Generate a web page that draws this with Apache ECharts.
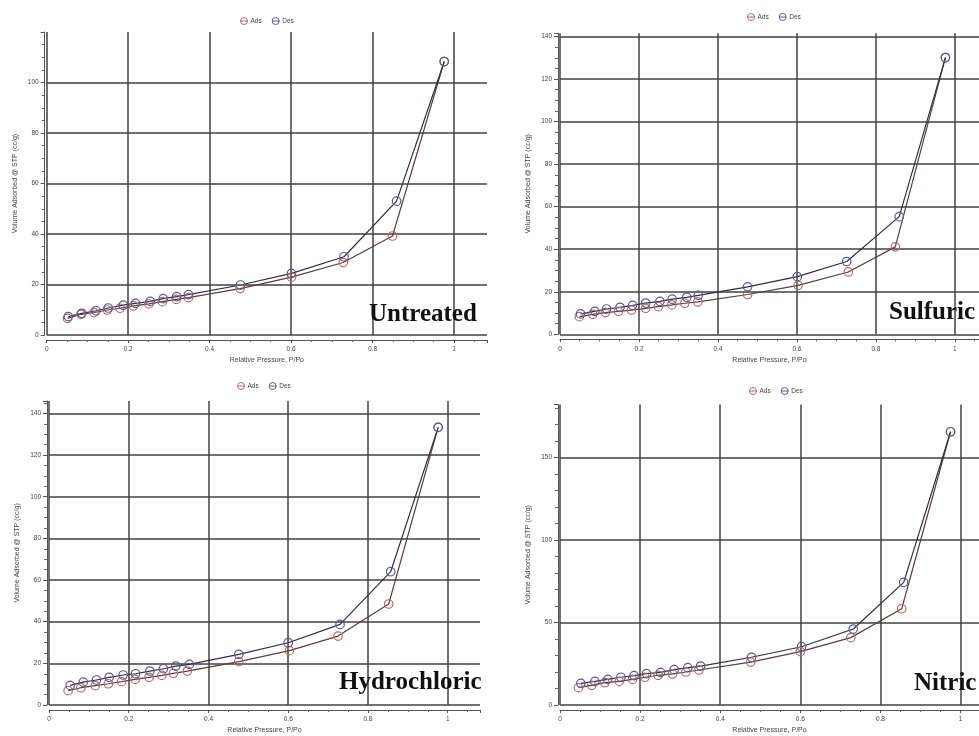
<!DOCTYPE html>
<html><head><meta charset="utf-8">
<script src="https://cdn.jsdelivr.net/npm/echarts@6/dist/echarts.min.js"></script>
<style>html,body{margin:0;padding:0;background:#fff}#c{width:979px;height:736px}</style>
</head><body><div id="c"></div>
<script>
// ---------- data ----------
const panelNames = ['Untreated', 'Sulfuric', 'Hydrochloric', 'Nitric'];
const seriesNames = ['Ads', 'Des'];
const xAxisName = 'Relative Pressure, P/Po';
const yAxisName = 'Volume Adsorbed @ STP (cc/g)';

const untreatedAdsP = [0.051,0.084,0.116,0.149,0.180,0.213,0.251,0.284,0.318,0.348,0.475,0.601,0.728,0.849,0.976];
const untreatedAdsV = [6.6,8.2,8.9,9.9,10.6,11.5,12.3,13.2,14.1,14.8,18.4,22.9,28.7,39.2,108.3];
const untreatedDesP = [0.976,0.859,0.730,0.601,0.476,0.348,0.319,0.286,0.254,0.218,0.188,0.151,0.121,0.086,0.053];
const untreatedDesV = [108.3,53.0,31.0,24.4,19.8,16.0,15.2,14.4,13.3,12.5,11.8,10.7,9.6,8.6,7.3];

const sulfuricAdsP = [0.049,0.083,0.115,0.148,0.181,0.217,0.249,0.283,0.316,0.349,0.475,0.603,0.730,0.849,0.976];
const sulfuricAdsV = [8.3,9.4,10.2,10.8,11.4,12.2,13.0,13.8,14.6,15.2,18.7,23.0,29.3,41.1,130.1];
const sulfuricDesP = [0.976,0.859,0.726,0.601,0.475,0.350,0.321,0.284,0.253,0.217,0.184,0.152,0.118,0.088,0.052];
const sulfuricDesV = [130.1,55.3,34.2,27.1,22.3,18.3,17.4,16.5,15.5,14.7,13.6,12.7,11.9,10.8,9.6];

const hydroAdsP = [0.048,0.080,0.116,0.149,0.182,0.216,0.251,0.283,0.312,0.347,0.476,0.603,0.725,0.852,0.976];
const hydroAdsV = [6.9,8.3,9.3,10.2,11.2,12.3,13.3,14.2,15.2,16.3,20.8,26.1,33.1,48.5,133.3];
const hydroDesP = [0.976,0.857,0.730,0.600,0.476,0.352,0.318,0.287,0.253,0.217,0.186,0.151,0.119,0.086,0.053];
const hydroDesV = [133.3,64.0,38.7,29.9,24.3,19.5,18.7,17.4,16.3,15.0,14.4,13.3,12.0,11.0,9.4];

const nitricAdsP = [0.046,0.079,0.112,0.148,0.181,0.212,0.245,0.281,0.314,0.347,0.476,0.600,0.726,0.853,0.975];
const nitricAdsV = [10.5,11.9,13.5,14.3,15.5,16.8,18.0,18.8,20.0,21.2,26.0,32.3,40.8,58.3,165.5];
const nitricDesP = [0.975,0.858,0.732,0.603,0.478,0.351,0.319,0.285,0.251,0.216,0.185,0.152,0.119,0.087,0.052];
const nitricDesV = [165.5,74.3,46.0,35.3,28.9,23.6,22.6,21.4,19.8,19.0,17.8,16.8,15.5,14.3,13.1];

// y-axis tick settings per panel
const yIntervals = [20, 20, 20, 50];
const yMinorSplit = [4, 4, 4, 5];
const yMaxes = [120, 141.5, 146, 182];
const xMaxes = [1.081, 1.061, 1.081, 1.046];

// ---------- layout ----------
const layout = [
  {left: 46.7, top: 32,    width: 440.3, height: 303,   legendX: 235, legendY: 12, labelX: 369, labelY: 316},
  {left: 560,  top: 33.3,  width: 419,   height: 301,   legendX: 742, legendY: 8,  labelX: 889, labelY: 314},
  {left: 49,   top: 400.9, width: 431,   height: 304.1, legendX: 232, legendY: 377, labelX: 339, labelY: 684},
  {left: 560,  top: 404.5, width: 419,   height: 300.5, legendX: 744, legendY: 382, labelX: 914, labelY: 685}
];

const allData = [
  [untreatedAdsP, untreatedAdsV, untreatedDesP, untreatedDesV],
  [sulfuricAdsP, sulfuricAdsV, sulfuricDesP, sulfuricDesV],
  [hydroAdsP, hydroAdsV, hydroDesP, hydroDesV],
  [nitricAdsP, nitricAdsV, nitricDesP, nitricDesV]
];

const FONT = '"Liberation Sans", Arial, sans-serif';
const gridColor = '#424242';
const adsMarker = '#b86a6a', desMarker = '#5b5b8e';
const adsLine = '#5e3c3c', desLine = '#2e2e48';
const iconPath = 'path://M0,5A5,5,0,1,1,10,5A5,5,0,1,1,0,5ZM0,5L10,5';

const zip = (a, b) => a.map((v, i) => [v, b[i]]);

const grids = [], xAxes = [], yAxes = [], series = [], legends = [], graphics = [];
layout.forEach((L, i) => {
  grids.push({left: L.left, top: L.top, width: L.width, height: L.height, containLabel: false});
  xAxes.push({
    type: 'value', gridIndex: i, min: 0, max: xMaxes[i], interval: 0.2,
    offset: 5,
    name: xAxisName, nameLocation: 'middle', nameGap: 17,
    nameTextStyle: {fontSize: 7, color: '#444', fontFamily: FONT},
    axisLine: {show: true, onZero: false, lineStyle: {color: '#555', width: 1}},
    axisTick: {show: true, length: 3, inside: false, lineStyle: {color: '#555'}},
    minorTick: {show: true, splitNumber: 4, length: 2, lineStyle: {color: '#666'}},
    axisLabel: {fontSize: 6.5, color: '#444', fontFamily: FONT, margin: 6, showMaxLabel: false,
      formatter: v => String(Math.round(v * 10) / 10)},
    splitLine: {show: true, showMaxLine: false, lineStyle: {color: gridColor, width: 1.5}}
  });
  yAxes.push({
    type: 'value', gridIndex: i, min: 0, max: yMaxes[i], interval: yIntervals[i],
    offset: 2,
    name: yAxisName, nameLocation: 'middle', nameGap: 26, nameRotate: 90,
    nameTextStyle: {fontSize: 7, color: '#444', fontFamily: FONT},
    axisLine: {show: true, onZero: false, lineStyle: {color: '#555', width: 1}},
    axisTick: {show: true, length: 4, lineStyle: {color: '#555'}},
    minorTick: {show: true, splitNumber: yMinorSplit[i], length: 3, lineStyle: {color: '#666'}},
    axisLabel: {fontSize: 6.5, color: '#444', fontFamily: FONT, margin: 6, showMaxLabel: false},
    splitLine: {show: true, showMaxLine: false, lineStyle: {color: gridColor, width: 1.5}}
  });
  const d = allData[i];
  series.push({
    name: seriesNames[0], type: 'line', xAxisIndex: i, yAxisIndex: i,
    data: zip(d[0], d[1]), symbol: 'circle', symbolSize: 8.5,
    itemStyle: {color: 'rgba(255,255,255,0)', borderColor: adsMarker, borderWidth: 1.2},
    lineStyle: {color: adsLine, width: 1.2}, z: 3, animation: false
  });
  series.push({
    name: seriesNames[1], type: 'line', xAxisIndex: i, yAxisIndex: i,
    data: zip(d[2], d[3]), symbol: 'circle', symbolSize: 8.5,
    itemStyle: {color: 'rgba(255,255,255,0)', borderColor: desMarker, borderWidth: 1.2},
    lineStyle: {color: desLine, width: 1.2}, z: 3, animation: false
  });
  legends.push({
    left: L.legendX, top: L.legendY, itemWidth: 7, itemHeight: 7, itemGap: 10,
    selectedMode: false,
    textStyle: {fontSize: 6.5, color: '#444', fontFamily: FONT, padding: [0, 0, 0, -2]},
    data: [
      {name: seriesNames[0], icon: iconPath, itemStyle: {color: 'rgba(255,255,255,0)', borderColor: adsMarker, borderWidth: 1}},
      {name: seriesNames[1], icon: iconPath, itemStyle: {color: 'rgba(255,255,255,0)', borderColor: desMarker, borderWidth: 1}}
    ]
  });
  graphics.push({
    type: 'text', left: L.labelX, top: L.labelY - 14, z: 10,
    style: {text: panelNames[i], fill: '#111', font: 'bold 25px "Liberation Serif", "Times New Roman", serif'}
  });
});

const chart = echarts.init(document.getElementById('c'), null, {renderer: 'canvas'});
chart.setOption({
  animation: false,
  backgroundColor: '#fff',
  grid: grids, xAxis: xAxes, yAxis: yAxes, series: series, legend: legends, graphic: graphics
});
</script></body></html>
